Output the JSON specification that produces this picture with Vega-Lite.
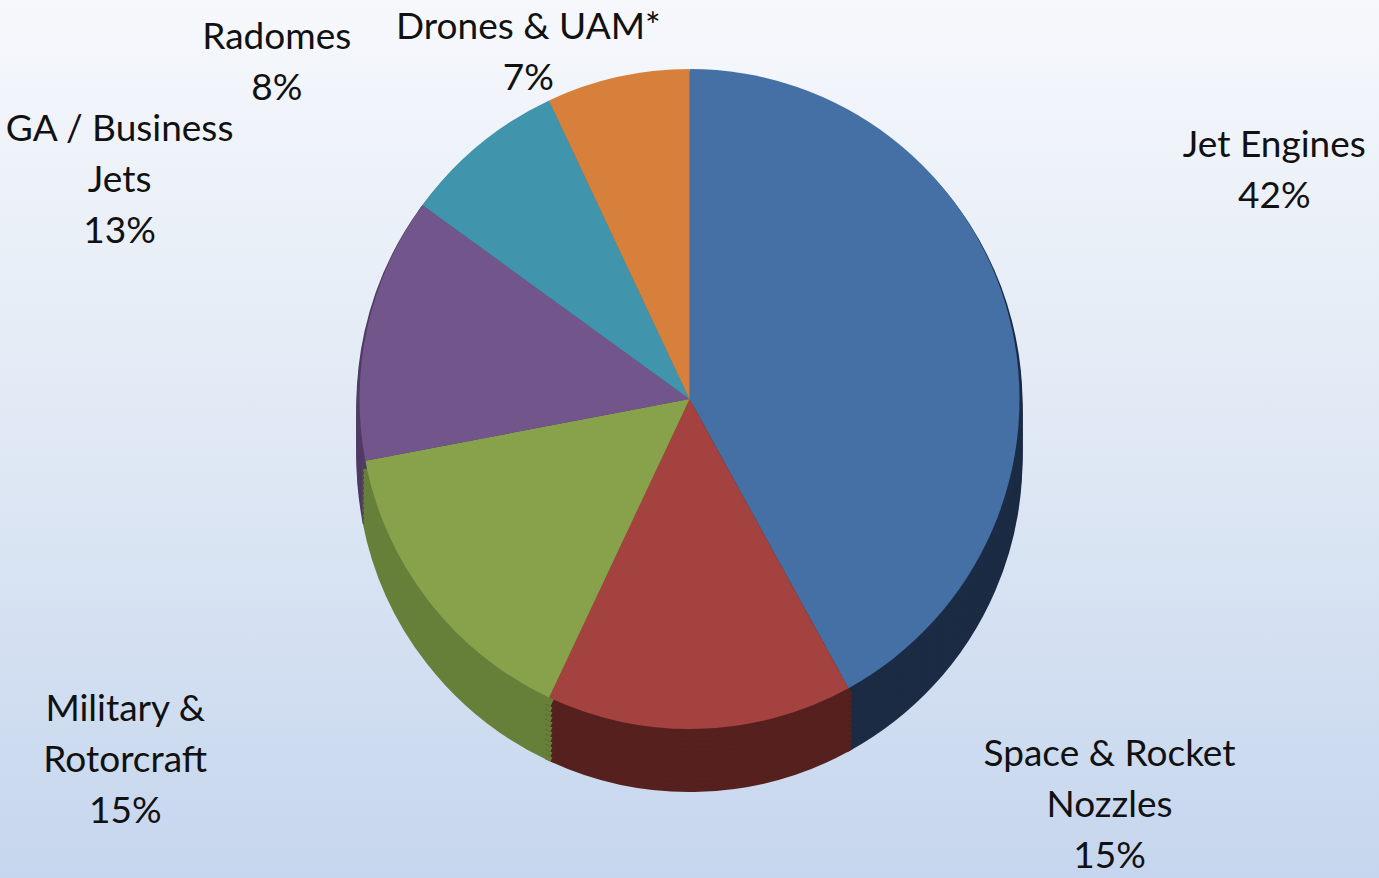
{
  "$schema": "https://vega.github.io/schema/vega-lite/v6.json",
  "width": 1379,
  "height": 878,
  "autosize": "none",
  "padding": 0,
  "background": "#c9d9ef",
  "config": {
    "view": {"stroke": null},
    "text": {"font": "Lato", "fontSize": 37, "lineHeight": 51, "lineBreak": "\n", "color": "#111111"}
  },
  "data": {
    "values": [
      {"rank": 1, "name": "Jet Engines", "value": 42, "label": "Jet Engines\n42%"},
      {"rank": 2, "name": "Space & Rocket Nozzles", "value": 15, "label": "Space & Rocket\nNozzles\n15%"},
      {"rank": 3, "name": "Military & Rotorcraft", "value": 15, "label": "Military &\nRotorcraft\n15%"},
      {"rank": 4, "name": "GA / Business Jets", "value": 13, "label": "GA / Business\nJets\n13%"},
      {"rank": 5, "name": "Radomes", "value": 8, "label": "Radomes\n8%"},
      {"rank": 6, "name": "Drones & UAM*", "value": 7, "label": "Drones & UAM*\n7%"}
    ]
  },
  "layer": [
    {
      "data": {"values": [{"bg": 1}]},
      "mark": {"type": "rect", "color": {"gradient": "linear", "x1": 0, "y1": 0, "x2": 0, "y2": 1, "stops": [{"offset": 0, "color": "#f6f8fc"}, {"offset": 0.45, "color": "#e2eaf5"}, {"offset": 1, "color": "#c6d6ee"}]}}
    },
    {
      "encoding": {
        "theta": {"field": "value", "type": "quantitative", "stack": true},
        "order": {"field": "rank", "type": "quantitative"}
      },
      "layer": [
        {"mark": {"type": "arc", "outerRadius": 330, "yOffset": 20, "strokeWidth": 6},
         "encoding": {"fill": {"field": "name", "type": "nominal", "legend": null, "scale": {"domain": ["Jet Engines", "Space & Rocket Nozzles", "Military & Rotorcraft", "GA / Business Jets", "Radomes", "Drones & UAM*"], "range": ["#1B2B44", "#55201E", "#66803A", "#4F3B63", "#2C6A7C", "#9A5A28"]}},
                      "stroke": {"field": "name", "type": "nominal", "legend": null, "scale": {"domain": ["Jet Engines", "Space & Rocket Nozzles", "Military & Rotorcraft", "GA / Business Jets", "Radomes", "Drones & UAM*"], "range": ["#1B2B44", "#55201E", "#66803A", "#4F3B63", "#2C6A7C", "#9A5A28"]}}}},
        {"mark": {"type": "arc", "outerRadius": 330, "yOffset": 15, "strokeWidth": 6},
         "encoding": {"fill": {"field": "name", "type": "nominal", "legend": null}, "stroke": {"field": "name", "type": "nominal", "legend": null}}},
        {"mark": {"type": "arc", "outerRadius": 330, "yOffset": 10, "strokeWidth": 6},
         "encoding": {"fill": {"field": "name", "type": "nominal", "legend": null}, "stroke": {"field": "name", "type": "nominal", "legend": null}}},
        {"mark": {"type": "arc", "outerRadius": 330, "yOffset": 5, "strokeWidth": 6},
         "encoding": {"fill": {"field": "name", "type": "nominal", "legend": null}, "stroke": {"field": "name", "type": "nominal", "legend": null}}},
        {"mark": {"type": "arc", "outerRadius": 330, "yOffset": 0, "strokeWidth": 6},
         "encoding": {"fill": {"field": "name", "type": "nominal", "legend": null}, "stroke": {"field": "name", "type": "nominal", "legend": null}}},
        {"mark": {"type": "arc", "outerRadius": 330, "yOffset": -5, "strokeWidth": 6},
         "encoding": {"fill": {"field": "name", "type": "nominal", "legend": null}, "stroke": {"field": "name", "type": "nominal", "legend": null}}},
        {"mark": {"type": "arc", "outerRadius": 330, "yOffset": -10, "strokeWidth": 6},
         "encoding": {"fill": {"field": "name", "type": "nominal", "legend": null}, "stroke": {"field": "name", "type": "nominal", "legend": null}}},
        {"mark": {"type": "arc", "outerRadius": 330, "yOffset": -15, "strokeWidth": 6},
         "encoding": {"fill": {"field": "name", "type": "nominal", "legend": null}, "stroke": {"field": "name", "type": "nominal", "legend": null}}},
        {"mark": {"type": "arc", "outerRadius": 330, "yOffset": -20, "strokeWidth": 6},
         "encoding": {"fill": {"field": "name", "type": "nominal", "legend": null}, "stroke": {"field": "name", "type": "nominal", "legend": null}}},
        {"mark": {"type": "arc", "outerRadius": 330, "yOffset": -25, "strokeWidth": 6},
         "encoding": {"fill": {"field": "name", "type": "nominal", "legend": null}, "stroke": {"field": "name", "type": "nominal", "legend": null}}},
        {"mark": {"type": "arc", "outerRadius": 330, "yOffset": -30, "strokeWidth": 6},
         "encoding": {"fill": {"field": "name", "type": "nominal", "legend": null}, "stroke": {"field": "name", "type": "nominal", "legend": null}}},
        {"mark": {"type": "arc", "outerRadius": 330, "yOffset": -35, "strokeWidth": 6},
         "encoding": {"fill": {"field": "name", "type": "nominal", "legend": null}, "stroke": {"field": "name", "type": "nominal", "legend": null}}},
        {"mark": {"type": "arc", "outerRadius": 330, "yOffset": -40},
         "encoding": {"color": {"field": "name", "type": "nominal", "legend": null, "scale": {"domain": ["Jet Engines", "Space & Rocket Nozzles", "Military & Rotorcraft", "GA / Business Jets", "Radomes", "Drones & UAM*"], "range": ["#4470A5", "#A4423F", "#88A24C", "#71558B", "#4095AD", "#D6803B"]}}}},
        {"mark": {"type": "text", "radius": 420, "dx": 178, "dy": -189, "align": "center", "baseline": "middle"},
         "encoding": {"text": {"condition": {"test": "datum.rank === 1", "field": "label"}, "value": ""}}},
        {"mark": {"type": "text", "radius": 320, "dx": 410, "dy": -4, "align": "center", "baseline": "middle"},
         "encoding": {"text": {"condition": {"test": "datum.rank === 2", "field": "label"}, "value": ""}}},
        {"mark": {"type": "text", "radius": 380, "dx": -264, "dy": 38, "align": "center", "baseline": "middle"},
         "encoding": {"text": {"condition": {"test": "datum.rank === 3", "field": "label"}, "value": ""}}},
        {"mark": {"type": "text", "radius": 420, "dx": -160, "dy": -217, "align": "center", "baseline": "middle"},
         "encoding": {"text": {"condition": {"test": "datum.rank === 4", "field": "label"}, "value": ""}}},
        {"mark": {"type": "text", "radius": 420, "dx": -145, "dy": -77, "align": "center", "baseline": "middle"},
         "encoding": {"text": {"condition": {"test": "datum.rank === 5", "field": "label"}, "value": ""}}},
        {"mark": {"type": "text", "radius": 390, "dx": -76, "dy": -30, "align": "center", "baseline": "middle"},
         "encoding": {"text": {"condition": {"test": "datum.rank === 6", "field": "label"}, "value": ""}}}
      ]
    }
  ]
}
